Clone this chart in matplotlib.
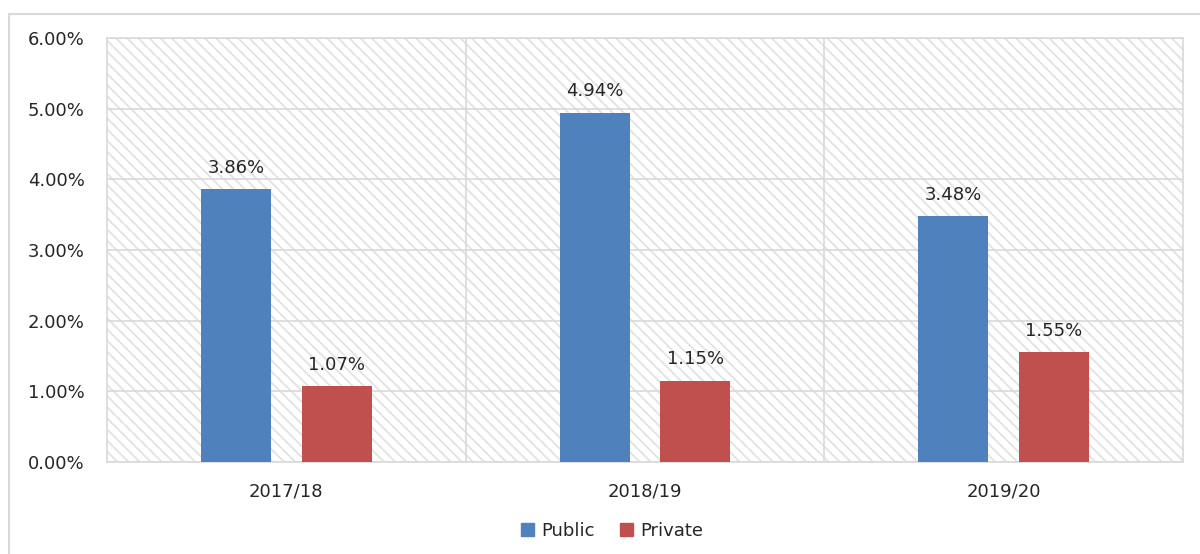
import matplotlib
matplotlib.use("Agg")
import matplotlib.pyplot as plt
from matplotlib.patches import Rectangle, Patch
from matplotlib.ticker import FuncFormatter
import numpy as np

categories = ["2017/18", "2018/19", "2019/20"]
public = [3.86, 4.94, 3.48]
private = [1.07, 1.15, 1.55]
series_names = ["Public", "Private"]
colors = ["#4F81BD", "#C0504D"]
yticks = [0, 1, 2, 3, 4, 5, 6]

plt.rcParams["font.family"] = ["DejaVu Sans"]
plt.rcParams["hatch.linewidth"] = 1.3
text_color = "#262626"
grid_color = "#D9D9D9"

fig = plt.figure(figsize=(12, 5.54), dpi=100)
ax = fig.add_axes([107/1200, 92/554, 1076/1200, 424/554])

# outer chart border
fig.patches.append(Rectangle((9/1200, -0.05), 1.05, (554-14)/554 + 0.05,
                             transform=fig.transFigure, fill=False,
                             edgecolor=grid_color, linewidth=1.5, zorder=0))

# hatched plot area background
ax.add_patch(Rectangle((0, 0), 1, 1, transform=ax.transAxes, facecolor="white",
                       edgecolor="#E2E2E2", hatch="\\\\\\", linewidth=0, zorder=0))

x = np.arange(len(categories))
w = 0.195
off = 0.14
b1 = ax.bar(x - off, public, w, color=colors[0], zorder=3)
b2 = ax.bar(x + off, private, w, color=colors[1], zorder=3)

for bars, vals in ((b1, public), (b2, private)):
    for r, v in zip(bars, vals):
        ax.annotate(f"{v:.2f}%", (r.get_x() + r.get_width()/2, v),
                    xytext=(0, 9), textcoords="offset points", ha="center",
                    va="bottom", fontsize=13, color=text_color, zorder=4)

ax.set_xlim(-0.5, len(categories) - 0.5)
ax.set_ylim(0, 6)
ax.set_yticks(yticks)
ax.yaxis.set_major_formatter(FuncFormatter(lambda v, p: f"{v:.2f}%"))
ax.set_xticks(x)
ax.set_xticklabels(categories)
ax.tick_params(axis="both", length=0, labelsize=13, labelcolor=text_color)
ax.tick_params(axis="y", pad=16)
ax.tick_params(axis="x", pad=15)

for yv in yticks:
    ax.axhline(yv, color=grid_color, linewidth=1.2, zorder=1)
for xv in [0.5, 1.5]:
    ax.axvline(xv, color=grid_color, linewidth=1.2, zorder=1)
for s in ax.spines.values():
    s.set_color(grid_color)
    s.set_linewidth(1.2)

handles = [Patch(color=c) for c in colors]
fig.legend(handles, series_names, loc="center", bbox_to_anchor=(612/1200, 1 - 531/554),
           ncol=2, frameon=False, fontsize=13, handlelength=0.7, handleheight=0.7,
           handletextpad=0.4, columnspacing=1.4, labelcolor=text_color)

fig.savefig("out.png", dpi=100)
